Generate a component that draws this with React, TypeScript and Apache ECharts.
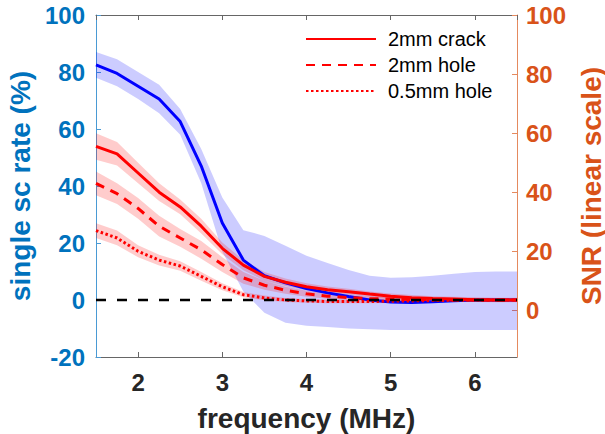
import React, { useEffect, useRef } from "react";
import * as echarts from "echarts";

const freq = [1.5, 1.75, 2, 2.25, 2.5, 2.75, 3, 3.25, 3.5, 3.75, 4, 4.25, 4.5, 4.75, 5, 5.25, 5.5, 5.75, 6, 6.25, 6.5];

// single scattering rate (%), left axis
const blueMean = [82.5, 79.5, 75, 70.5, 62.6, 47, 27, 14, 8.5, 6, 4, 2.5, 1.2, 0, -0.7, -0.9, -0.6, -0.3, 0, 0, 0];
const blueUpper = [87, 84.5, 80, 75.5, 67, 53, 36, 24.5, 22.5, 19, 15.5, 13, 10.5, 8.5, 7.8, 8, 8.5, 9.2, 9.8, 10, 10];
const blueLower = [78, 75, 70.5, 65.5, 58, 41, 17, 3, -4.5, -8, -9, -9.5, -10, -10.3, -10.5, -10.5, -10.5, -10.5, -10.5, -10.5, -10.5];

// SNR, right axis
const crackMean = [55.5, 53, 46.5, 40, 35, 28.5, 21, 15.3, 11.5, 9.5, 8, 7, 6.3, 5.5, 4.8, 4.3, 4, 3.8, 3.6, 3.5, 3.5];
const crackUpper = [60, 57, 50, 43, 37.5, 31, 23, 17, 13, 10.8, 9.2, 8.1, 7.3, 6.4, 5.7, 5.2, 4.8, 4.6, 4.4, 4.3, 4.3];
const crackLower = [51, 49, 43, 37, 32.5, 26, 19, 13.6, 10, 8.2, 6.8, 5.9, 5.3, 4.6, 3.9, 3.4, 3.2, 3, 2.8, 2.7, 2.7];

const holeMean = [43, 39.5, 34.5, 28.5, 24.5, 20.5, 15.5, 11, 8.5, 6.8, 5.6, 4.8, 4.3, 4, 3.8, 3.7, 3.6, 3.5, 3.5, 3.5, 3.5];
const holeUpper = [47, 43, 38, 32, 27.5, 23.5, 18, 13, 10, 8, 6.6, 5.7, 5.1, 4.7, 4.5, 4.3, 4.2, 4.1, 4.1, 4.1, 4.1];
const holeLower = [39, 36, 31, 25, 21.5, 17.5, 13, 9, 7, 5.6, 4.6, 3.9, 3.5, 3.3, 3.1, 3.1, 3, 2.9, 2.9, 2.9, 2.9];

const smallMean = [27, 24.5, 20, 17, 15, 11.5, 8, 5.3, 4.2, 3.5, 3.2, 3, 3, 3, 3.1, 3.2, 3.3, 3.4, 3.5, 3.5, 3.5];
const smallUpper = [29.5, 27, 22, 18.8, 16.6, 13, 9.2, 6.2, 5, 4.2, 3.8, 3.6, 3.6, 3.6, 3.7, 3.8, 3.9, 4, 4.1, 4.1, 4.1];
const smallLower = [24.5, 22, 18, 15.2, 13.4, 10, 6.8, 4.4, 3.4, 2.8, 2.6, 2.4, 2.4, 2.4, 2.5, 2.6, 2.7, 2.8, 2.9, 2.9, 2.9];

const zeroX = [1.5, 6.5];
const zeroY = [0, 0];

const legendNames = ["2mm crack", "2mm hole", "0.5mm hole"];

const FONT = "'Liberation Sans', Arial, Helvetica, sans-serif";
const BLUE_AX = "#0072BD";
const ORANGE_AX = "#D95319";

function band(name: string, lower: number[], upper: number[], fill: string, yAxisIndex: number) {
  return {
    type: "custom",
    name,
    yAxisIndex,
    silent: true,
    data: freq.map((f, i) => [f, lower[i], upper[i]]),
    encode: { x: 0, y: [1, 2] },
    renderItem: (params: any, api: any) => {
      if (params.dataIndex !== 0) return null;
      const pts: number[][] = [];
      for (let i = 0; i < freq.length; i++) pts.push(api.coord([freq[i], upper[i]]));
      for (let i = freq.length - 1; i >= 0; i--) pts.push(api.coord([freq[i], lower[i]]));
      return { type: "polygon", shape: { points: pts }, style: { fill } };
    },
    z: 1,
  };
}

function line(name: string, xs: number[], values: number[], color: string, type: any, width: number, yAxisIndex: number, z: number) {
  return {
    type: "line",
    name,
    yAxisIndex,
    data: xs.map((f, i) => [f, values[i]]),
    symbol: "none",
    showSymbol: false,
    lineStyle: { color, type, width, cap: "butt" },
    itemStyle: { color },
    z,
  };
}

export default function App() {
  const ref = useRef<HTMLDivElement>(null);
  useEffect(() => {
    if (!ref.current) return;
    const chart = echarts.init(ref.current, null, { renderer: "svg" });
    const tickLabel = { fontSize: 24, fontWeight: "bold", fontFamily: FONT };
    chart.setOption({
      animation: false,
      backgroundColor: "#fff",
      grid: { left: 96, top: 15, right: 88, bottom: 77, containLabel: false, outerBoundsMode: "none" },
      legend: {
        data: legendNames,
        orient: "vertical",
        left: 300,
        top: 24,
        itemWidth: 70,
        itemHeight: 14,
        itemGap: 6,
        itemStyle: { opacity: 0 },
        textStyle: { fontSize: 20, lineHeight: 14, fontFamily: FONT, color: "#000", padding: [0, 0, 0, 7] },
        selectedMode: false,
      },
      xAxis: [
        {
          type: "value",
          min: 1.5,
          max: 6.5,
          minInterval: 1,
          maxInterval: 1,
          name: "frequency (MHz)",
          nameLocation: "middle",
          nameGap: 47,
          nameTextStyle: { fontSize: 28, fontWeight: "bold", fontFamily: FONT, color: "#262626" },
          axisLine: { show: true, onZero: false, lineStyle: { color: "#666", width: 1 } },
          axisTick: { show: true, inside: true, length: 5, lineStyle: { color: "#666" } },
          axisLabel: {
            ...tickLabel,
            color: "#262626",
            margin: 13,
            showMinLabel: false,
            showMaxLabel: false,
            formatter: (v: number) => (Number.isInteger(v) ? String(v) : ""),
          },
          splitLine: { show: false },
        },
        {
          type: "value",
          position: "top",
          min: 1.5,
          max: 6.5,
          minInterval: 1,
          maxInterval: 1,
          axisLine: { show: true, onZero: false, lineStyle: { color: "#666", width: 1 } },
          axisTick: { show: true, inside: true, length: 5, lineStyle: { color: "#666" } },
          axisLabel: { show: false },
          splitLine: { show: false },
        },
      ],
      yAxis: [
        {
          type: "value",
          min: -20,
          max: 100,
          interval: 20,
          name: "single sc rate (%)",
          nameLocation: "middle",
          nameRotate: 90,
          nameGap: 56,
          nameTextStyle: { fontSize: 28, fontWeight: "bold", fontFamily: FONT, color: BLUE_AX },
          axisLine: { show: true, onZero: false, lineStyle: { color: "#4a9ad4", width: 1 } },
          axisTick: { show: true, inside: true, length: 5, lineStyle: { color: "#4a9ad4" } },
          axisLabel: { ...tickLabel, color: BLUE_AX, margin: 11 },
          splitLine: { show: false },
        },
        {
          type: "value",
          position: "right",
          min: -15.8,
          max: 100,
          minInterval: 20,
          maxInterval: 20,
          name: "SNR (linear scale)",
          nameLocation: "middle",
          nameRotate: 90,
          nameGap: 60,
          nameTextStyle: { fontSize: 28, fontWeight: "bold", fontFamily: FONT, color: ORANGE_AX },
          axisLine: { show: true, onZero: false, lineStyle: { color: "#e58a5e", width: 1 } },
          axisTick: { show: true, inside: true, length: 5, lineStyle: { color: "#e58a5e" } },
          axisLabel: {
            ...tickLabel,
            color: ORANGE_AX,
            margin: 9,
            showMinLabel: false,
            formatter: (v: number) => (Math.abs(v % 20) < 1e-9 && v >= 0 ? String(v) : ""),
          },
          splitLine: { show: false },
        },
      ],
      series: [
        band("blueBand", blueLower, blueUpper, "rgba(0,0,255,0.2)", 0),
        band("crackBand", crackLower, crackUpper, "rgba(255,0,0,0.2)", 1),
        band("holeBand", holeLower, holeUpper, "rgba(255,0,0,0.2)", 1),
        band("smallBand", smallLower, smallUpper, "rgba(255,0,0,0.2)", 1),
        line("single sc rate", freq, blueMean, "#0000ff", "solid", 3, 0, 3),
        line("2mm crack", freq, crackMean, "#ff0000", "solid", 3, 1, 4),
        line("2mm hole", freq, holeMean, "#ff0000", [9, 7], 3, 1, 4),
        line("0.5mm hole", freq, smallMean, "#ff0000", [2.5, 2.5], 3, 1, 4),
        line("zero", zeroX, zeroY, "#000000", [10, 11], 2.5, 0, 5),
      ],
    });
    return () => chart.dispose();
  }, []);
  return <div ref={ref} style={{ position: "fixed", left: 0, top: 0, width: 605, height: 434 }} />;
}
